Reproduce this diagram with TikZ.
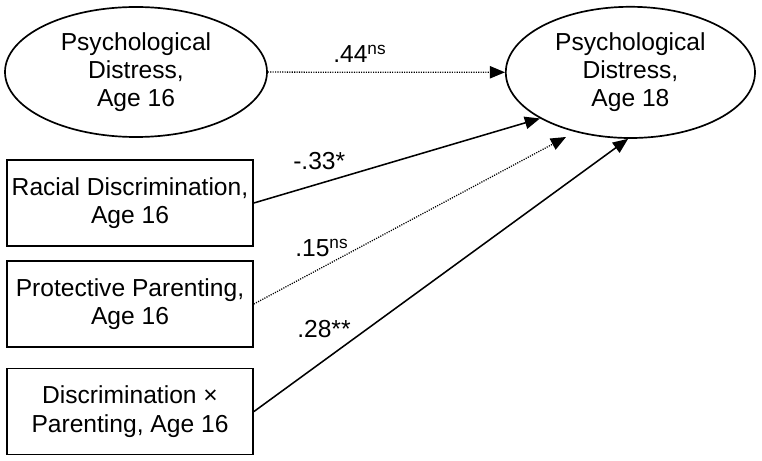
\documentclass[tikz,border=0pt]{standalone}
\usepackage{fontspec}
\setmainfont{Liberation Sans}
\usepackage{tikz}
\usetikzlibrary{shapes.geometric,positioning,arrows.meta}

\begin{document}
\begin{tikzpicture}[
  font=\fontsize{17.5}{20}\selectfont,
  latent/.style={draw, line width=1.2pt, ellipse, align=center, inner sep=0pt},
  observed/.style={draw, line width=1.2pt, minimum width=61.5mm, minimum height=21.5mm,
    align=center, inner sep=2pt},
  effect/.style={-{Triangle[length=3.8mm, width=3.1mm]}, line width=1.1pt},
  weak/.style={-{Triangle[length=3.8mm, width=3.1mm]}, line width=0.9pt,
    dash pattern=on 0.8pt off 0.9pt},
  coef/.style={anchor=base west, inner sep=0pt},
]
\useasboundingbox (0,0) rectangle (19.05,-11.525);

\node[latent, minimum width=65.5mm, minimum height=32.5mm] (dist16) at (3.4,-1.8)
  {Psychological\\Distress,\\Age 16};
\node[latent, minimum width=62.3mm, minimum height=32.8mm] (dist18) at (15.76,-1.81)
  {Psychological\\Distress,\\Age 18};

\node[observed] (racial) at (3.25,-5.075) {Racial Discrimination,\\Age 16};
\node[observed] (protect) at (3.25,-7.6) {Protective Parenting,\\Age 16};
\node[observed] (inter) at (3.25,-10.29) {Discrimination ×\\Parenting, Age 16};

\coordinate (stop15) at (14.15,-3.425);

\draw[weak] (dist16) -- (dist18);
\draw[effect] (racial.east) -- (dist18.207);
\draw[weak] (protect.east) -- (stop15);
\draw[effect] (inter.east) -- (dist18.268);

\node[coef] (c44) at (8.325,-1.575) {.44\textsuperscript{ns}};
\node[coef] (c33) at (7.325,-4.25) {-.33*};
\node[coef] (c15) at (7.375,-6.425) {.15\textsuperscript{ns}};
\node[coef] (c28) at (7.425,-8.425) {.28**};

\end{tikzpicture}
\end{document}
